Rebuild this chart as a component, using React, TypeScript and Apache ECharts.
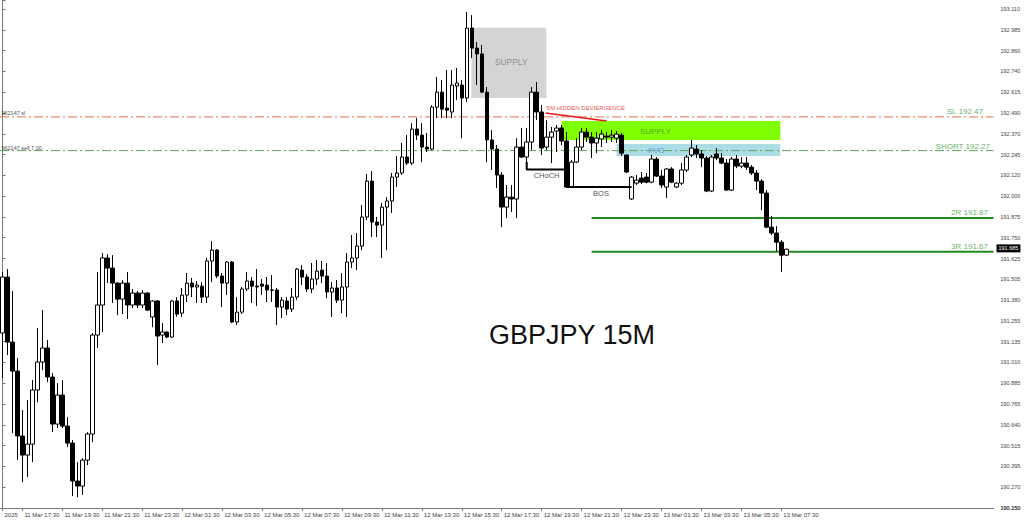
import React, { useEffect, useRef } from "react";
import * as echarts from "echarts";

// ---------- data ----------
const N_SLOTS = 199; // 15-minute slots shown (incl. empty space to the right)
const START_DAY = 11;
const START_MINUTE = 16 * 60 + 30; // 11 Mar 16:30

const xTickLabels = [
  "11 Mar 17:30", "11 Mar 19:30", "11 Mar 21:30", "11 Mar 23:30",
  "12 Mar 01:30", "12 Mar 03:30", "12 Mar 05:30", "12 Mar 07:30",
  "12 Mar 09:30", "12 Mar 11:30", "12 Mar 13:30", "12 Mar 15:30",
  "12 Mar 17:30", "12 Mar 19:30", "12 Mar 21:30", "12 Mar 23:30",
  "13 Mar 01:30", "13 Mar 03:30", "13 Mar 05:30", "13 Mar 07:30",
];
const firstXLabel = "2025";

const yMin = 190.15;
const yMax = 193.1634;
const yStep = 0.1233333333;
const yTickLabels = [
  "190.150", "190.270", "190.395", "190.515", "190.640", "190.765", "190.885",
  "191.010", "191.135", "191.255", "191.380", "191.505", "191.625", "191.750",
  "191.875", "192.000", "192.120", "192.245", "192.370", "192.490", "192.615",
  "192.740", "192.860", "192.985", "193.110",
];

const opens = [
  191.188, 191.520, 191.134, 190.962, 190.577, 190.464, 190.529, 190.850, 191.016, 191.099,
  190.927, 190.648, 190.820, 190.636, 190.535, 190.310, 190.280, 190.434, 190.589, 191.176,
  191.354, 191.633, 191.573, 191.484, 191.389, 191.484, 191.354, 191.425, 191.354, 191.425,
  191.283, 191.378, 191.176, 191.194, 191.164, 191.378, 191.306, 191.413, 191.484, 191.461,
  191.466, 191.401, 191.615, 191.680, 191.526, 191.484, 191.609, 191.253, 191.312, 191.449,
  191.496, 191.466, 191.478, 191.472, 191.443, 191.443, 191.342, 191.378, 191.330, 191.401,
  191.561, 191.520, 191.449, 191.508, 191.561, 191.526, 191.431, 191.455, 191.383, 191.461,
  191.609, 191.633, 191.704, 191.876, 192.089, 191.846, 191.828, 191.935, 191.971, 192.113,
  192.137, 192.232, 192.196, 192.398, 192.362, 192.291, 192.279, 192.528, 192.617, 192.522,
  192.499, 192.653, 192.659, 192.582, 192.997, 192.878, 192.843, 192.617, 192.333, 192.279,
  192.125, 191.935, 191.994, 191.983, 192.291, 192.232, 192.321, 192.617, 192.499, 192.291,
  192.350, 192.386, 192.404, 192.327, 192.054, 192.202, 192.291, 192.380, 192.350, 192.315,
  192.339, 192.356, 192.350, 192.344, 192.362, 192.244, 191.983, 192.077, 192.107, 192.113,
  192.083, 192.220, 192.119, 192.054, 192.161, 192.054, 192.077, 192.155, 192.244, 192.279,
  192.250, 192.226, 192.030, 192.250, 192.226, 192.196, 192.036, 192.220, 192.178, 192.196,
  192.172, 192.137, 192.089, 192.018, 191.816, 191.781, 191.727, 191.650,
];
const closes = [
  191.520, 191.134, 190.962, 190.577, 190.464, 190.529, 190.850, 191.016, 191.099, 190.927,
  190.648, 190.820, 190.636, 190.535, 190.310, 190.280, 190.434, 190.589, 191.176, 191.354,
  191.633, 191.573, 191.484, 191.389, 191.484, 191.354, 191.425, 191.354, 191.425, 191.324,
  191.378, 191.170, 191.194, 191.164, 191.378, 191.300, 191.413, 191.484, 191.461, 191.472,
  191.401, 191.615, 191.680, 191.526, 191.484, 191.609, 191.253, 191.312, 191.449, 191.496,
  191.466, 191.461, 191.466, 191.443, 191.442, 191.342, 191.383, 191.330, 191.401, 191.567,
  191.520, 191.449, 191.508, 191.555, 191.526, 191.431, 191.455, 191.383, 191.461, 191.609,
  191.633, 191.704, 191.876, 192.089, 191.846, 191.828, 191.935, 191.971, 192.113, 192.137,
  192.232, 192.196, 192.398, 192.362, 192.291, 192.279, 192.528, 192.617, 192.516, 192.510,
  192.659, 192.671, 192.582, 192.997, 192.878, 192.843, 192.617, 192.333, 192.279, 192.125,
  191.935, 191.994, 191.983, 192.291, 192.232, 192.321, 192.617, 192.499, 192.285, 192.350,
  192.380, 192.404, 192.327, 192.054, 192.202, 192.291, 192.380, 192.350, 192.315, 192.344,
  192.368, 192.350, 192.362, 192.368, 192.255, 192.143, 192.113, 192.095, 192.083, 192.083,
  192.220, 192.119, 192.066, 192.161, 192.083, 192.077, 192.155, 192.232, 192.285, 192.250,
  192.226, 192.030, 192.232, 192.226, 192.196, 192.036, 192.220, 192.178, 192.196, 192.172,
  192.137, 192.089, 192.018, 191.816, 191.781, 191.727, 191.650, 191.685,
];
const lows = [
  190.921, 191.057, 190.594, 190.434, 190.304, 190.333, 190.422, 190.778, 190.968, 190.897,
  190.600, 190.624, 190.624, 190.511, 190.221, 190.215, 190.227, 190.405, 190.541, 191.099,
  191.194, 191.484, 191.366, 191.294, 191.300, 191.271, 191.336, 191.336, 191.336, 191.318,
  191.223, 190.998, 191.128, 191.158, 191.158, 191.283, 191.283, 191.372, 191.401, 191.366,
  191.366, 191.366, 191.490, 191.514, 191.342, 191.413, 191.247, 191.235, 191.300, 191.437,
  191.366, 191.348, 191.413, 191.372, 191.372, 191.235, 191.277, 191.294, 191.312, 191.383,
  191.472, 191.431, 191.425, 191.472, 191.484, 191.395, 191.283, 191.366, 191.306, 191.283,
  191.573, 191.561, 191.680, 191.858, 191.757, 191.757, 191.633, 191.680, 191.900, 192.054,
  192.125, 192.184, 192.184, 192.333, 192.202, 192.261, 192.273, 192.463, 192.463, 192.463,
  192.463, 192.570, 192.344, 192.558, 192.819, 192.659, 192.611, 192.202, 192.155, 192.048,
  191.816, 191.870, 191.906, 191.870, 192.226, 192.202, 192.273, 192.451, 192.244, 192.273,
  192.196, 192.261, 192.303, 192.048, 192.048, 192.196, 192.273, 192.321, 192.226, 192.255,
  192.291, 192.315, 192.321, 192.315, 192.238, 192.137, 191.977, 192.066, 192.072, 192.077,
  192.077, 192.113, 192.048, 191.989, 192.077, 192.048, 192.066, 192.143, 192.232, 192.226,
  192.172, 192.024, 192.024, 192.214, 192.190, 192.030, 192.030, 192.166, 192.166, 192.155,
  192.125, 192.036, 191.917, 191.810, 191.769, 191.674, 191.550, 191.644,
];
const highs = [
  191.550, 191.567, 191.437, 191.039, 190.731, 190.790, 190.909, 191.217, 191.324, 191.146,
  190.950, 190.891, 190.909, 190.689, 190.553, 190.422, 190.446, 190.600, 191.188, 191.550,
  191.662, 191.656, 191.650, 191.490, 191.502, 191.550, 191.449, 191.437, 191.443, 191.431,
  191.383, 191.383, 191.247, 191.199, 191.383, 191.401, 191.455, 191.544, 191.514, 191.496,
  191.490, 191.633, 191.733, 191.686, 191.544, 191.615, 191.615, 191.401, 191.461, 191.550,
  191.520, 191.567, 191.508, 191.520, 191.532, 191.455, 191.401, 191.401, 191.455, 191.573,
  191.591, 191.538, 191.603, 191.621, 191.615, 191.603, 191.490, 191.502, 191.544, 191.662,
  191.769, 191.781, 191.947, 192.131, 192.149, 191.876, 191.959, 191.994, 192.137, 192.238,
  192.315, 192.362, 192.433, 192.463, 192.433, 192.374, 192.540, 192.706, 192.688, 192.748,
  192.748, 192.760, 192.688, 193.092, 193.074, 192.914, 192.896, 192.647, 192.392, 192.303,
  192.143, 192.066, 192.066, 192.344, 192.404, 192.404, 192.647, 192.677, 192.540, 192.451,
  192.410, 192.422, 192.422, 192.380, 192.214, 192.344, 192.404, 192.404, 192.380, 192.380,
  192.392, 192.380, 192.392, 192.386, 192.374, 192.244, 192.119, 192.125, 192.143, 192.137,
  192.244, 192.232, 192.155, 192.166, 192.172, 192.083, 192.196, 192.244, 192.333, 192.303,
  192.273, 192.238, 192.244, 192.285, 192.255, 192.220, 192.232, 192.244, 192.232, 192.232,
  192.184, 192.155, 192.101, 192.036, 191.882, 191.822, 191.739, 191.688,
];

const lastPrice = 191.685;
const lastPriceLabel = "191.685";

// horizontal trade levels: name, price, start slot
const levelNames = ["SL", "SHORT", "2R", "3R"];
const levelPrices = [192.47, 192.27, 191.87, 191.67];
const levelStarts = [-0.5, -0.5, 118, 118];

// zones: [x0 slot, x1 slot, top price, bottom price]
const graySupplyZone = [93.94, 108.94, 192.999, 192.582];
const greenSupplyZone = [112.0, 155.8, 192.445, 192.333];
const fvgZone = [123.0, 155.8, 192.309, 192.238];

// structure lines: [slot, price] points
const divergenceLine = [[108.8, 192.493], [121.0, 192.446]];
const chochLine = [[105, 192.202], [105, 192.158], [113, 192.158]];
const bosLine = [[113, 192.054], [126, 192.054]];

// text notes: [text, slot, price, kind]
const notes: [string, number, number, string][] = [
  ["SL 192.47", 196.4, 192.499, "level"],
  ["SHORT 192.27", 197.8, 192.293, "level"],
  ["2R 191.87", 197.4, 191.900, "level"],
  ["3R 191.67", 197.4, 191.700, "level"],
  ["SUPPLY", 101.9, 192.795, "gray"],
  ["SUPPLY", 130.8, 192.382, "green"],
  ["FVG", 131.0, 192.273, "fvg"],
  ["CHoCH", 109.0, 192.125, "struct"],
  ["BOS", 119.9, 192.014, "struct"],
  ["5M HIDDEN DEVIERGENCE", 109.0, 192.525, "red"],
  ["962147 sl", -0.2, 192.493, "order"],
  ["962147 sell 7.00", -0.2, 192.285, "order"],
];
const chartTitle = "GBPJPY 15M";

// ---------- helpers ----------
const categories: string[] = [];
for (let i = 0; i < N_SLOTS; i++) {
  const t = START_MINUTE + 15 * i;
  const d = START_DAY + Math.floor(t / 1440);
  const m = t % 1440;
  const hh = String(Math.floor(m / 60)).padStart(2, "0");
  const mm = String(m % 60).padStart(2, "0");
  categories.push(`${d} Mar ${hh}:${mm}`);
}

const FONT = "'Liberation Sans', Arial, sans-serif";
const noteStyles: Record<string, any> = {
  level: { fontSize: 8, color: "#3a9a3a", align: "right" },
  gray: { fontSize: 8.5, color: "#7a7a7a", align: "center" },
  green: { fontSize: 8, color: "#3f8a25", align: "center" },
  fvg: { fontSize: 8, color: "#4a86d8", align: "center" },
  struct: { fontSize: 7.5, color: "#222222", align: "center" },
  red: { fontSize: 6, color: "#e02020", align: "left" },
  order: { fontSize: 5.5, color: "#111111", align: "left" },
};

export default function App() {
  const ref = useRef<HTMLDivElement>(null);

  useEffect(() => {
    if (!ref.current) return;
    const chart = echarts.init(ref.current, undefined, { renderer: "svg" });

    const candleData = opens.map((o, i) => [o, closes[i], lows[i], highs[i]]);
    const showTick = (idx: number, val: string) => idx === 0 || xTickLabels.includes(val);

    const levelColors = ["#e0704a", "#5aa55a", "#1f8a1f", "#1f8a1f"];
    const levelTypes: any[] = [[9, 3, 2, 3], [9, 3, 2, 3], "solid", "solid"];
    const levelWidths = [1, 1, 2, 2];

    const levelSeries = levelNames.map((name, k) => ({
      type: "line",
      name,
      xAxisIndex: 1,
      yAxisIndex: 0,
      data: [
        [levelStarts[k], levelPrices[k]],
        [N_SLOTS - 0.5, levelPrices[k]],
      ],
      symbol: "none",
      silent: true,
      z: 1,
      lineStyle: { color: levelColors[k], width: levelWidths[k], type: levelTypes[k] },
    }));

    const zoneArea = (z: number[], color: string) => [
      { coord: [z[0], z[2]], itemStyle: { color, opacity: 1 } },
      { coord: [z[1], z[3]] },
    ];

    const option: any = {
      animation: false,
      backgroundColor: "#ffffff",
      textStyle: { fontFamily: FONT },
      title: {
        text: chartTitle,
        left: 484,
        top: 316,
        textStyle: { fontSize: 27, fontWeight: "normal", color: "#111", fontFamily: FONT },
      },
      grid: { left: -1.5, right: 30.5, top: 0, bottom: 14, containLabel: false },
      xAxis: [
        {
          type: "category",
          data: categories,
          boundaryGap: true,
          axisLine: { show: true, lineStyle: { color: "#777", width: 1 } },
          axisTick: {
            show: true,
            alignWithLabel: true,
            interval: showTick,
            length: 3,
            lineStyle: { color: "#777" },
          },
          axisLabel: {
            interval: showTick,
            formatter: (val: string, idx: number) => (idx === 0 ? firstXLabel : val),
            align: "left",
            fontSize: 6,
            color: "#444",
            margin: 4,
            padding: [0, 0, 0, 2],
            fontFamily: FONT,
          },
          splitLine: { show: false },
        },
        { type: "value", min: -0.5, max: N_SLOTS - 0.5, show: false },
      ],
      yAxis: {
        type: "value",
        position: "right",
        min: yMin,
        max: yMax,
        interval: yStep,
        axisLine: { show: true, lineStyle: { color: "#777", width: 1 } },
        axisTick: { show: true, length: 3, lineStyle: { color: "#777" } },
        axisLabel: {
          fontSize: 5.5,
          color: "#444",
          margin: 7,
          showMinLabel: true,
          showMaxLabel: true,
          hideOverlap: false,
          fontFamily: FONT,
          formatter: (v: number) => {
            const k = Math.round((v - yMin) / yStep);
            if (k < 0 || k >= yTickLabels.length) return "";
            if (Math.abs(v - (yMin + k * yStep)) > 0.002) return "";
            return yTickLabels[k];
          },
        },
        splitLine: { show: false },
      },
      series: [
        {
          type: "line",
          name: "zones",
          xAxisIndex: 1,
          yAxisIndex: 0,
          data: [],
          silent: true,
          z: 0,
          markArea: {
            silent: true,
            label: { show: false },
            data: [
              zoneArea(graySupplyZone, "#d4d4d4"),
              zoneArea(greenSupplyZone, "#80ff00"),
              zoneArea(fvgZone, "#acdce6"),
            ],
          },
        },
        ...levelSeries,
        {
          type: "candlestick",
          name: "GBPJPY",
          xAxisIndex: 0,
          yAxisIndex: 0,
          data: candleData,
          barWidth: 4,
          z: 3,
          itemStyle: {
            color: "#ffffff",
            color0: "#000000",
            borderColor: "#000000",
            borderColor0: "#000000",
            borderWidth: 1,
          },
          markLine: {
            silent: true,
            symbol: "none",
            lineStyle: { color: "rgba(0,0,0,0)", width: 0 },
            data: [
              {
                yAxis: lastPrice,
                label: {
                  show: true,
                  position: "end",
                  formatter: lastPriceLabel,
                  backgroundColor: "#000",
                  color: "#fff",
                  fontSize: 5.5,
                  padding: [1, 2, 1, 2],
                  distance: 3,
                  fontFamily: FONT,
                },
              },
              {
                yAxis: yMin,
                label: {
                  show: true,
                  position: "end",
                  formatter: yTickLabels[0],
                  color: "#444",
                  fontSize: 5.5,
                  distance: 7,
                  fontFamily: FONT,
                },
              },
            ],
          },
        },
        {
          type: "line",
          name: "divergence",
          xAxisIndex: 1,
          data: divergenceLine,
          symbol: "none",
          silent: true,
          z: 4,
          lineStyle: { color: "#e81818", width: 1.5 },
        },
        {
          type: "line",
          name: "choch",
          xAxisIndex: 1,
          data: chochLine,
          symbol: "none",
          silent: true,
          z: 4,
          lineStyle: { color: "#000", width: 2 },
        },
        {
          type: "line",
          name: "bos",
          xAxisIndex: 1,
          data: bosLine,
          symbol: "none",
          silent: true,
          z: 4,
          lineStyle: { color: "#000", width: 2 },
        },
        {
          type: "scatter",
          name: "notes",
          xAxisIndex: 1,
          yAxisIndex: 0,
          symbolSize: 0.1,
          silent: true,
          z: 6,
          itemStyle: { color: "rgba(0,0,0,0)" },
          data: notes.map((n) => {
            const st = noteStyles[n[3]];
            return {
              value: [n[1], n[2]],
              label: {
                show: true,
                formatter: n[0],
                position: [0, 0],
                align: st.align,
                verticalAlign: "middle",
                fontSize: st.fontSize,
                color: st.color,
                fontFamily: FONT,
              },
            };
          }),
        },
      ],
    };

    chart.setOption(option);
    return () => chart.dispose();
  }, []);

  return (
    <div
      ref={ref}
      style={{ position: "absolute", left: 0, top: 0, width: 1024, height: 522, background: "#fff" }}
    />
  );
}
